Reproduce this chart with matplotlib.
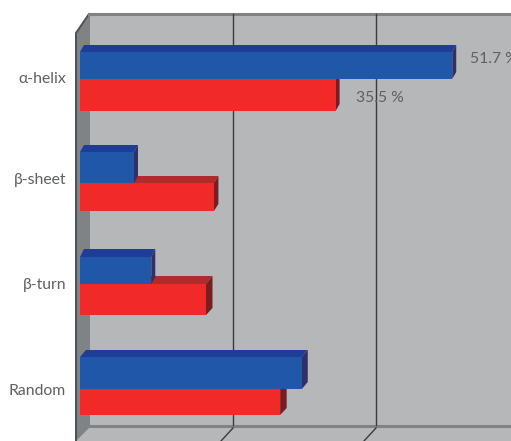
import matplotlib
matplotlib.use("Agg")
import matplotlib.pyplot as plt
from matplotlib.patches import Polygon
import numpy as np

plt.rcParams['font.family'] = ['Lato', 'Open Sans', 'DejaVu Sans']

categories = ["α-helix", "β-sheet", "β-turn", "Random"]
blue_values = [51.7, 7.5, 9.9, 30.8]
red_values = [35.5, 18.6, 17.5, 27.8]
grid_values = [20, 40]

# layout, in pixels down the picture
blue_edges = [(52, 79), (152, 183), (257, 284), (357, 389)]
red_edges = [(79, 111), (183, 211), (284, 315), (389, 415)]
label_y = [79, 180, 285, 391]
blue_top_depth = [7, 7, 8, 7]
red_top_depth = [0, 7, 8, 0]
blue_side_depth = [4, 4, 4, 6]
red_side_depth = [4, 4.5, 6.5, 6.5]

W, H = 511, 441
X0 = 80       # pixel of zero on the front plane
SCALE = 7.2   # pixels per percent
GRID_SCALE = 7.15
WALL_X = 90
WALL_TOP = 14
FLOOR_Y = 427
FONT_SIZE = 11.3
TEXT_COLOR = "#5f6062"


def px(p):
    return (p - X0) / SCALE


def draw_bar(ax, value, y0, y1, dy, side_px, front, top, side):
    dx = side_px / SCALE
    if dy:
        ax.add_patch(Polygon([(0, y0), (dx, y0 - dy), (value + dx, y0 - dy), (value, y0)],
                             fc=top, ec="none", zorder=3))
    ax.add_patch(Polygon([(value, y0), (value + dx, y0 - max(dy, 7)), (value + dx, y1 - 7), (value, y1)],
                         fc=side, ec="none", zorder=3))
    ax.barh((y0 + y1) / 2, value, height=y1 - y0, color=front, zorder=4)


fig = plt.figure(figsize=(W / 100, H / 100), dpi=100)
ax = fig.add_axes([0, 0, 1, 1])
ax.set_xlim(px(0), px(W))
ax.set_ylim(H, 0)
ax.axis("off")

# back wall and floor
ax.add_patch(Polygon([(px(WALL_X), WALL_TOP), (px(W), WALL_TOP), (px(W), H), (px(76), H)],
                     fc="#b6b7b9", ec="none", zorder=0))
# side wall
ax.add_patch(Polygon([(px(76), 33), (px(WALL_X), WALL_TOP), (px(WALL_X), FLOOR_Y), (px(76), H)],
                     fc="#7f8385", ec="none", zorder=1))
ax.plot([px(76), px(76), px(89)], [H, 33, 14], color="#4d4f51", lw=1.4, zorder=2)
ax.plot([px(89), px(W)], [WALL_TOP - 0.5, WALL_TOP - 0.5], color="#808285", lw=2.2, zorder=2)
ax.plot([px(WALL_X), px(W)], [FLOOR_Y - 1, FLOOR_Y - 1], color="#808285", lw=2.2, zorder=2)

for g in grid_values:
    gx = px(WALL_X + g * GRID_SCALE)
    ax.plot([gx, gx], [WALL_TOP, FLOOR_Y - 2], color="#3a3b3d", lw=1.0, zorder=2)
    ax.plot([gx, gx - 12 / SCALE], [FLOOR_Y + 1, H], color="#3a3b3d", lw=1.0, zorder=2)

for i, name in enumerate(categories):
    # red goes first, the blue side face sits over its top
    draw_bar(ax, red_values[i], red_edges[i][0], red_edges[i][1], red_top_depth[i], red_side_depth[i],
             "#f12a29", "#b12a2d", "#7a1c20")
    draw_bar(ax, blue_values[i], blue_edges[i][0], blue_edges[i][1], blue_top_depth[i], blue_side_depth[i],
             "#2157a8", "#1f3d97", "#2e3069")
    ax.text(px(66), label_y[i], name, ha="right", va="center", fontsize=FONT_SIZE, color=TEXT_COLOR)

# the first value label runs off the right edge in the reference too
ax.text(px(470), 59, "51.7 %", ha="left", va="center", fontsize=FONT_SIZE, color=TEXT_COLOR, zorder=5)
ax.text(px(356), 98, "35.5 %", ha="left", va="center", fontsize=FONT_SIZE, color=TEXT_COLOR, zorder=5)

fig.savefig("out.png", dpi=100)
